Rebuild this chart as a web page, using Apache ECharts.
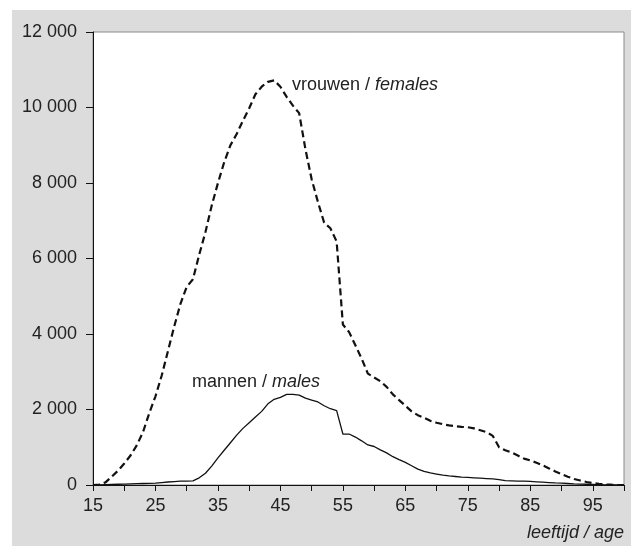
<!DOCTYPE html>
<html>
<head>
<meta charset="utf-8">
<script src="https://cdn.jsdelivr.net/npm/echarts@6/dist/echarts.min.js"></script>
<style>
  html, body { margin: 0; padding: 0; background: #fff; }
  #main { position: absolute; left: 12px; top: 10px; width: 619px; height: 536px; background: #dcdcdc; }
</style>
</head>
<body>
<div id="main"></div>
<script>
// leeftijd 15..100
var ages = [];
for (var a = 15; a <= 100; a++) ages.push(a);

var vrouwen = [
    0, 10, 70, 220, 380, 570, 780, 1050, 1400, 1900,
    2350, 2900, 3550, 4200, 4800, 5250, 5450, 6100, 6700, 7400,
    8000, 8550, 9000, 9300, 9650, 9980, 10350, 10550, 10680, 10720,
    10550, 10280, 10050, 9850, 8900, 8100, 7500, 6950, 6800, 6450,
    4250, 4050, 3700, 3350, 2950, 2850, 2750, 2600, 2400, 2250,
    2100, 1950, 1850, 1780, 1700, 1650, 1610, 1580, 1560, 1540,
    1530, 1500, 1450, 1400, 1300, 1000, 920, 860, 780, 700,
    650, 590, 520, 440, 360, 290, 220, 160, 120, 80,
    50, 30, 15, 8, 3, 0
];
var mannen = [
    0, 5, 10, 15, 20, 25, 30, 35, 40, 45,
    50, 65, 80, 90, 100, 105, 110, 190, 310, 500,
    720, 920, 1120, 1320, 1500, 1650, 1800, 1950, 2150, 2270,
    2320, 2400, 2400, 2380, 2300, 2250, 2200, 2100, 2020, 1970,
    1350, 1350, 1270, 1170, 1060, 1020, 930, 850, 750, 670,
    600, 510, 420, 360, 320, 290, 260, 240, 225, 210,
    200, 190, 180, 170, 160, 145, 115, 110, 105, 100,
    95, 85, 75, 65, 55, 50, 40, 30, 25, 20,
    15, 10, 5, 3, 1, 0
];

function pairs(vals) {
    return ages.map(function (a, i) { return [a, vals[i]]; });
}

var fnt = 'Liberation Sans, Arial, sans-serif';
var txt = '#222';
var fs = 18;

var myChart = echarts.init(document.getElementById('main'));

var option = {
    animation: false,
    grid: {
        left: 81,
        top: 22,
        right: 7,
        bottom: 61,
        show: true,
        backgroundColor: '#fff',
        borderColor: '#8a8a8a',
        borderWidth: 1
    },
    xAxis: [{
        type: 'value',
        min: 15,
        max: 100,
        interval: 5,
        splitLine: { show: false },
        axisLine: { onZero: false, lineStyle: { color: '#111', width: 1 } },
        axisTick: { length: 6, lineStyle: { color: '#111' } },
        axisLabel: {
            color: txt,
            fontFamily: fnt,
            fontSize: fs,
            margin: 12,
            formatter: function (v) {
                return ((v - 15) % 10 === 0 && v < 100) ? String(v) : '';
            }
        }
    }, {
        type: 'value',
        position: 'top',
        min: 15,
        max: 100,
        splitLine: { show: false },
        axisLine: { show: true, lineStyle: { color: '#111', width: 1 } },
        axisTick: { show: false },
        axisLabel: { show: false }
    }],
    yAxis: {
        type: 'value',
        min: 0,
        max: 12000,
        interval: 2000,
        splitLine: { show: false },
        axisLine: { show: true, lineStyle: { color: '#111', width: 1 } },
        axisTick: { show: true, length: 7, lineStyle: { color: '#111' } },
        axisLabel: {
            color: txt,
            fontFamily: fnt,
            fontSize: fs,
            margin: 16,
            formatter: function (v) {
                return String(v).replace(/\B(?=(\d{3})+(?!\d))/g, ' ');
            }
        }
    },
    series: [{
        name: 'vrouwen',
        type: 'line',
        data: pairs(vrouwen),
        showSymbol: false,
        lineStyle: { color: '#111', width: 2.2, type: [7, 4] },
        z: 3
    }, {
        name: 'mannen',
        type: 'line',
        data: pairs(mannen),
        showSymbol: false,
        lineStyle: { color: '#111', width: 1.3 },
        z: 4
    }],
    graphic: [{
        type: 'text',
        left: 280,
        top: 66,
        style: {
            text: '{n|vrouwen / }{i|females}',
            rich: {
                n: { fontFamily: fnt, fontSize: fs, fill: txt },
                i: { fontFamily: fnt, fontSize: fs, fontStyle: 'italic', fill: txt }
            }
        }
    }, {
        type: 'text',
        left: 180,
        top: 363,
        style: {
            text: '{n|mannen / }{i|males}',
            rich: {
                n: { fontFamily: fnt, fontSize: fs, fill: txt },
                i: { fontFamily: fnt, fontSize: fs, fontStyle: 'italic', fill: txt }
            }
        }
    }, {
        type: 'text',
        right: 7,
        top: 514,
        style: {
            text: 'leeftijd / age',
            fontFamily: fnt,
            fontSize: fs,
            fontStyle: 'italic',
            fill: txt
        }
    }]
};

myChart.setOption(option);
</script>
</body>
</html>
